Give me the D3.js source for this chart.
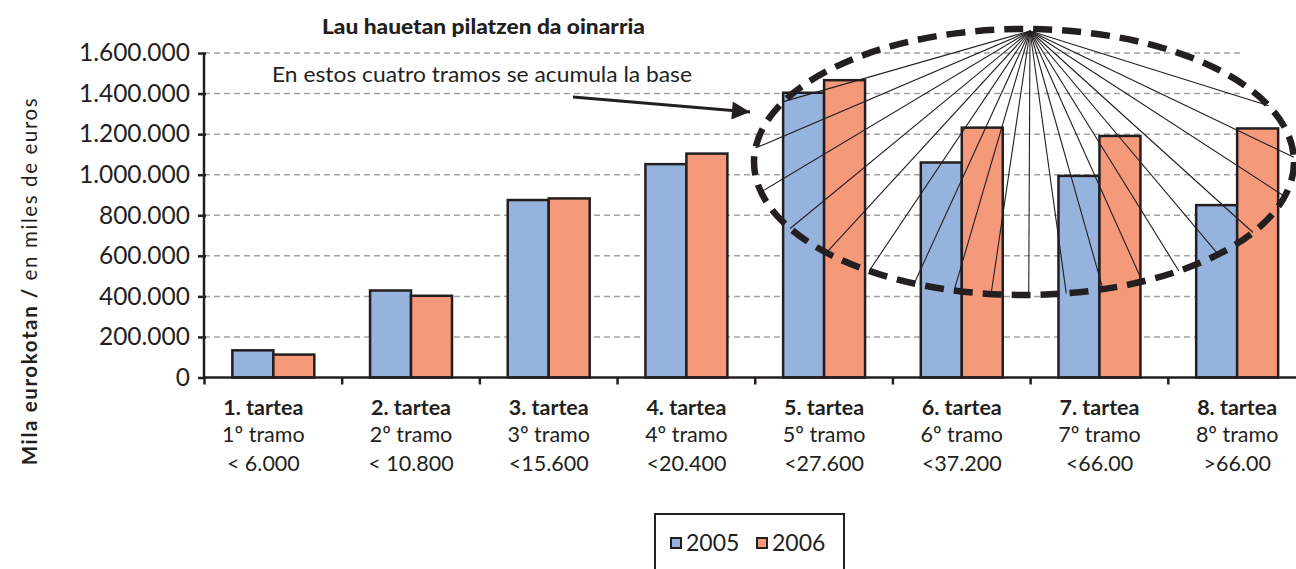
<!DOCTYPE html>
<html><head><meta charset="utf-8">
<script src="https://cdn.jsdelivr.net/npm/d3@7"></script>
<style>
html,body{margin:0;padding:0;background:#fff;}
svg{display:block;font-family:Lato,"Open Sans",sans-serif;}
</style></head>
<body><svg id="chart" width="1296" height="569"></svg>
<script>
const categories = ["1. tartea","2. tartea","3. tartea","4. tartea","5. tartea","6. tartea","7. tartea","8. tartea"];
const tramos = ["1º tramo","2º tramo","3º tramo","4º tramo","5º tramo","6º tramo","7º tramo","8º tramo"];
const limits = ["< 6.000","< 10.800","<15.600","<20.400","<27.600","<37.200","<66.00",">66.00"];
const series = ["2005","2006"];
const values2005 = [134000, 429000, 875000, 1052000, 1404000, 1060000, 994000, 850000];
const values2006 = [113000, 403000, 883000, 1104000, 1466000, 1232000, 1191000, 1228000];
const yTicks = [0,200000,400000,600000,800000,1000000,1200000,1400000,1600000];
const colors = {"2005":"#95b3dc","2006":"#f5997b"};
const title = "Lau hauetan pilatzen da oinarria";
const note = "En estos cuatro tramos se acumula la base";
const rayAngles = [207,186,167,150,137,125,114,105,97,89,81,73,64,55,44,32,15,-2,-25];

const svg = d3.select("#chart");
const x = d3.scaleBand().domain(categories).range([204.5, 1306]).padding(0);
const xi = d3.scaleBand().domain(series).range([0, x.bandwidth()]).paddingInner(0).paddingOuter(0.68);
const y = d3.scaleLinear().domain([0,1600000]).range([377.5, 53]);
const loc = d3.formatLocale({decimal:",", thousands:".", grouping:[3], currency:["","€"]});
const fmt = loc.format(",");
const ink = "#231f20";

// gridlines
svg.append("g").selectAll("line").data(yTicks.filter(d=>d>0)).join("line")
  .attr("x1",204).attr("x2",1240).attr("y1",d=>y(d)).attr("y2",d=>y(d))
  .attr("stroke","#a3a3a3").attr("stroke-width",1.5).attr("stroke-dasharray","6,4");

// bars
const rows = categories.map((c,i)=>({c, vals:[{s:"2005",v:values2005[i]},{s:"2006",v:values2006[i]}]}));
svg.append("g").selectAll("g").data(rows).join("g")
  .attr("transform",d=>`translate(${x(d.c)},0)`)
  .selectAll("rect").data(d=>d.vals).join("rect")
  .attr("x",d=>xi(d.s)).attr("width",xi.bandwidth())
  .attr("y",d=>y(d.v)).attr("height",d=>y(0)-y(d.v))
  .attr("fill",d=>colors[d.s]).attr("stroke",ink).attr("stroke-width",2.5);

// y axis
const ya = svg.append("g").attr("transform","translate(204,0)")
  .call(d3.axisLeft(y).tickValues(yTicks).tickFormat(fmt).tickSize(6).tickPadding(8));
ya.select(".domain").attr("stroke",ink).attr("stroke-width",2.5).attr("d",`M0,${y(1600000)}V${y(0)}`);
ya.selectAll(".tick line").attr("stroke",ink).attr("stroke-width",2.5).attr("x2",-6).attr("x1",2);
ya.selectAll(".tick text").attr("font-size",24.5).attr("fill",ink).attr("font-family","Lato");

// x axis
const xa = svg.append("g").attr("transform",`translate(0,${y(0)})`);
xa.append("line").attr("x1",204).attr("x2",1296).attr("stroke",ink).attr("stroke-width",2.5);
xa.selectAll("line.t").data(categories).join("line").attr("class","t")
  .attr("x1",d=>x(d)).attr("x2",d=>x(d)).attr("y1",0).attr("y2",7)
  .attr("stroke",ink).attr("stroke-width",2.5);
const cxl = (d,i)=>x(d)+x.bandwidth()/2 - (i===0?10:0);
const lab = svg.append("g").selectAll("text").data(categories).join("text")
  .attr("x",cxl).attr("text-anchor","middle").attr("fill",ink);
lab.append("tspan").attr("y",415).attr("font-weight","bold").attr("font-size",21.5).text(d=>d);
lab.append("tspan").attr("x",cxl).attr("y",442).attr("font-size",21.5).text((d,i)=>tramos[i]);
lab.append("tspan").attr("x",cxl).attr("y",471).attr("font-size",21.5).text((d,i)=>limits[i]);

// title
svg.append("text").attr("x",322).attr("y",34)
  .attr("font-weight","900").attr("font-size",20).attr("fill",ink)
  .attr("textLength",323).attr("lengthAdjust","spacingAndGlyphs").text(title);

// y label
const yl = svg.append("text").attr("transform","translate(37,281) rotate(-90)")
  .attr("text-anchor","middle").attr("font-size",20.5).attr("letter-spacing",1.6).attr("fill",ink);
yl.append("tspan").attr("font-weight","bold").text("Mila eurokotan / ");
yl.append("tspan").text("en miles de euros");

// note + arrow
svg.append("text").attr("x",272).attr("y",82)
  .attr("font-size",22).attr("fill",ink).attr("textLength",420).attr("lengthAdjust","spacingAndGlyphs").text(note);
const defs = svg.append("defs");
defs.append("marker").attr("id","ah").attr("viewBox","0 0 10 10").attr("refX",10).attr("refY",5)
  .attr("markerWidth",8).attr("markerHeight",6).attr("markerUnits","strokeWidth").attr("orient","auto")
  .append("path").attr("d","M0,0L10,5L0,10Z").attr("fill",ink);
svg.append("line").attr("x1",573).attr("y1",97).attr("x2",750).attr("y2",112)
  .attr("stroke",ink).attr("stroke-width",3).attr("marker-end","url(#ah)");

// ellipse + rays
const cx=1024, cy=162, rx=270, ry=133, ax=1030, ay=31;
svg.append("g").selectAll("line").data(rayAngles).join("line")
  .attr("x1",ax).attr("y1",ay)
  .attr("x2",a=>cx+rx*Math.cos(a*Math.PI/180)).attr("y2",a=>cy+ry*Math.sin(a*Math.PI/180))
  .attr("stroke",ink).attr("stroke-width",1.1);
svg.append("ellipse").attr("cx",cx).attr("cy",cy).attr("rx",rx).attr("ry",ry)
  .attr("fill","none").attr("stroke",ink).attr("stroke-width",6.5).attr("stroke-dasharray","19,10");

// legend
const lg = svg.append("g");
lg.append("rect").attr("x",655).attr("y",514).attr("width",189).attr("height",70)
  .attr("fill","#fff").attr("stroke",ink).attr("stroke-width",2);
const li = lg.selectAll("g").data(series).join("g")
  .attr("transform",(d,i)=>`translate(${671+i*86},538)`);
li.append("rect").attr("width",10).attr("height",10).attr("fill",d=>colors[d]).attr("stroke",ink).attr("stroke-width",2);
li.append("text").attr("x",15).attr("y",13).attr("font-size",23).attr("fill",ink).text(d=>d);
</script></body></html>
